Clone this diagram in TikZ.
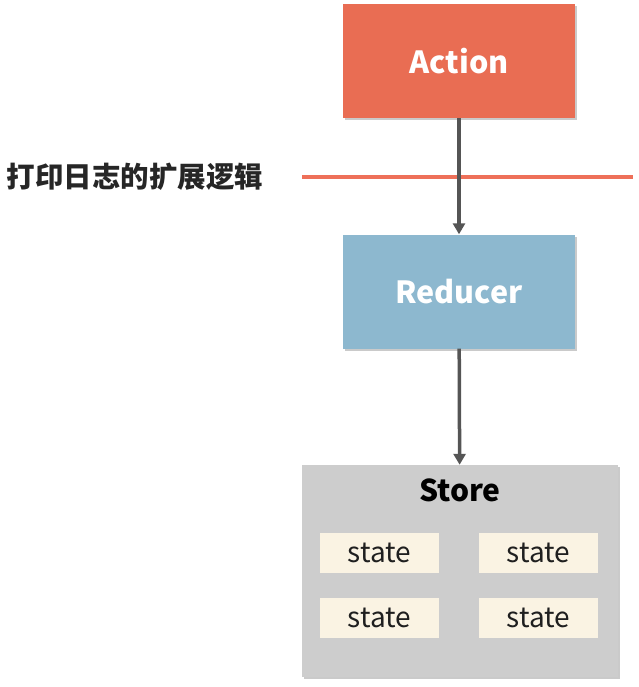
\documentclass[tikz,border=0pt]{standalone}
\usepackage{fontspec}
\setmainfont{Noto Sans CJK SC}
\newfontfamily\cjk{Noto Sans CJK SC}
\usetikzlibrary{shadows,arrows.meta}
\definecolor{actc}{HTML}{E96D53}
\definecolor{redc}{HTML}{8DB8CF}
\definecolor{stc}{HTML}{CDCDCD}
\definecolor{statec}{HTML}{FAF3E3}
\definecolor{arrc}{HTML}{555555}
\definecolor{linec}{HTML}{EE7059}
\tikzset{
  px/.style={x=1pt,y=-1pt},
  bigbox/.style={draw=none, minimum width=232pt, minimum height=114pt, inner sep=0pt,
    drop shadow={shadow xshift=2pt, shadow yshift=-2pt, opacity=0.35, fill=black!60},
    text=white, font=\fontsize{30.5}{34}\selectfont\bfseries},
  statebox/.style={fill=statec, minimum width=119pt, minimum height=40pt, inner sep=0pt,
    text=black!88, font=\fontsize{28}{32}\selectfont},
  conn/.style={draw=arrc, line width=3.5pt, -{Triangle[length=11pt,width=12pt]}},
}
\begin{document}
\begin{tikzpicture}[px]
\useasboundingbox (0,0) rectangle (638,687);
\node[bigbox, fill=actc] (action) at (459,61) {Action};
\node[bigbox, fill=redc] (reducer) at (459,291.5) {Reducer};
\node[draw=none, fill=stc, minimum width=316pt, minimum height=212pt, inner sep=0pt,
  drop shadow={shadow xshift=2pt, shadow yshift=-2pt, opacity=0.35, fill=black!60}] (store) at (460,571) {};
\node[font=\fontsize{30}{34}\selectfont\bfseries, text=black] (storelbl) at (460,490) {Store};
\node[statebox] (s1) at (379.5,553) {state};
\node[statebox] (s2) at (538.5,553) {state};
\node[statebox] (s3) at (379.5,618) {state};
\node[statebox] (s4) at (538.5,618) {state};
\coordinate (la) at (302,177);
\coordinate (lb) at (633,177);
\draw[linec, line width=3.5pt] (la) -- (lb);
\node[anchor=west, font=\cjk\fontsize{28.5}{32}\selectfont\bfseries, text=black!85] (lbl) at (3,177) {打印日志的扩展逻辑};
\draw[conn] (action) -- (reducer);
\draw[conn] (reducer) -- (store);
\end{tikzpicture}
\end{document}
